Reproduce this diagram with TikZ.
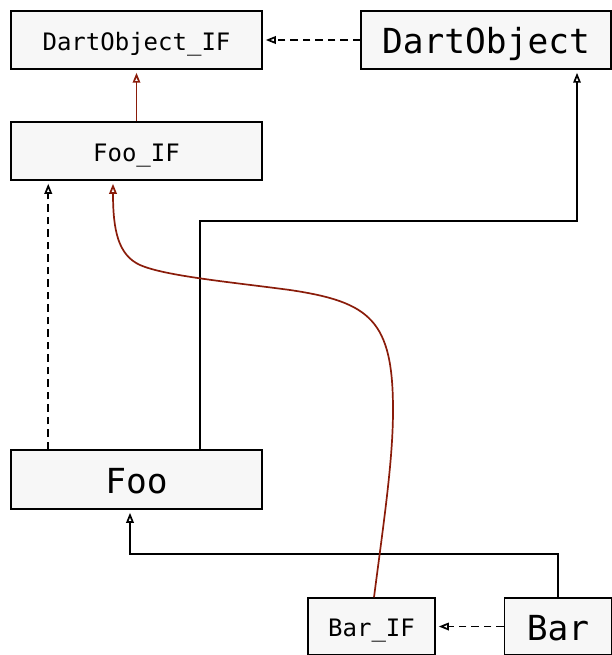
\documentclass[tikz,border=0pt]{standalone}
\usepackage{fontspec}
\newfontfamily\classfont{DejaVu Sans Mono}
\usetikzlibrary{arrows.meta}
\definecolor{boxfill}{RGB}{247,247,247}
\definecolor{ifline}{RGB}{138,28,10}
\tikzset{
  classbox/.style={draw=black, line width=1.5pt, fill=boxfill, rectangle,
    inner sep=0pt, text depth=0pt},
  smalltext/.style={font=\classfont\fontsize{24}{28}\selectfont, text height=20.5pt},
  bigtext/.style={font=\classfont\fontsize{34.5}{40}\selectfont, text height=28pt},
  opentip/.style={-{Triangle[open,length=10pt,width=7.5pt]}, shorten >=3pt},
  link/.style={draw=black, line width=1.7pt, opentip},
  implements/.style={link, dash pattern=on 7.5pt off 5pt},
  ifparent/.style={link, draw=ifline},
}
\begin{document}
\begin{tikzpicture}[x=1pt, y=-1pt]
\useasboundingbox (0,0) rectangle (612,655);

% class boxes
\node[classbox, smalltext, minimum width=251pt, minimum height=58pt] (dif)  at (136.5,40)    {DartObject\_IF};
\node[classbox, bigtext,   minimum width=250pt, minimum height=58pt] (dobj) at (486,40)      {DartObject};
\node[classbox, smalltext, minimum width=251pt, minimum height=58pt] (fif)  at (136.5,151)   {Foo\_IF};
\node[classbox, bigtext,   minimum width=251pt, minimum height=59pt] (foo)  at (136.5,479.5) {Foo};
\node[classbox, smalltext, minimum width=127pt, minimum height=57pt] (bif)  at (371.5,626.5) {Bar\_IF};
\node[classbox, bigtext,   minimum width=107pt, minimum height=57pt] (bar)  at (558,626.5)   {Bar};

% bends of the routed connectors
\coordinate (fooup)  at (0,221);
\coordinate (barbus) at (0,554);

% DartObject implements DartObject_IF
\draw[implements] (dobj.west) -- (dif.east);
% Foo_IF extends DartObject_IF
\draw[ifparent] (fif.north) -- (dif.south);
% Foo implements Foo_IF
\draw[implements] ([xshift=38pt]foo.north west) -- ([xshift=38pt]fif.south west);
% Foo extends DartObject
\draw[link] ([xshift=190pt]foo.north west) -- ([xshift=190pt]foo.north west |- fooup)
  -- ([xshift=91pt]dobj.south |- fooup) -- ([xshift=91pt]dobj.south);
% Bar extends Foo
\draw[link] (bar.north) -- (bar.north |- barbus)
  -- ([xshift=-6.5pt]foo.south |- barbus) -- ([xshift=-6.5pt]foo.south);
% Bar implements Bar_IF
\draw[implements] (bar.west) -- (bif.east);
% Bar_IF extends Foo_IF
\draw[ifparent] ([xshift=2.5pt]bif.north)
  .. controls (384,520) and (393,460) .. (393,410)
  .. controls (393,320) and (370,302) .. (290,290)
  .. controls (230,282) and (165,276) .. (140,265)
  .. controls (118,255) and (113,230) .. ([xshift=-23.5pt]fif.south);
\end{tikzpicture}
\end{document}
